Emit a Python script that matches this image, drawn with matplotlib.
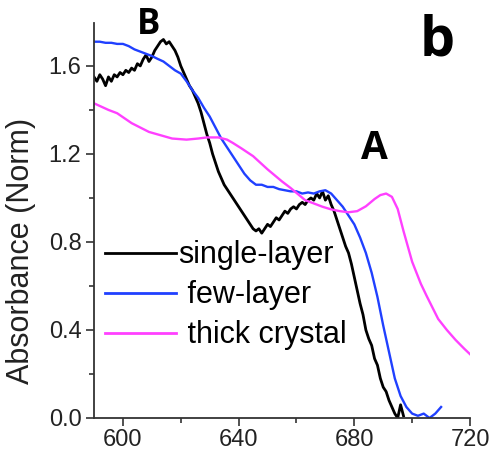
import matplotlib
matplotlib.use("Agg")
import matplotlib.pyplot as plt
from matplotlib.ticker import MultipleLocator

# ---- data ----
single_x = list(range(590, 698))
single_y = [1.55, 1.53, 1.56, 1.54, 1.51, 1.55, 1.53, 1.56, 1.55, 1.57,
            1.56, 1.58, 1.57, 1.59, 1.58, 1.61, 1.60, 1.63, 1.65, 1.62,
            1.64, 1.67, 1.69, 1.71, 1.72, 1.70, 1.71, 1.69, 1.67, 1.64,
            1.60, 1.57, 1.54, 1.51, 1.49, 1.46, 1.43, 1.39, 1.34, 1.29,
            1.25, 1.20, 1.16, 1.12, 1.09, 1.06, 1.04, 1.02, 1.00, 0.98,
            0.96, 0.94, 0.92, 0.90, 0.88, 0.86, 0.85, 0.86, 0.84, 0.86,
            0.88, 0.87, 0.89, 0.91, 0.90, 0.92, 0.94, 0.93, 0.95, 0.96,
            0.95, 0.97, 0.98, 0.97, 0.99, 1.00, 0.99, 1.02, 1.00, 1.03,
            0.99, 1.01, 0.97, 0.94, 0.90, 0.86, 0.82, 0.78, 0.75, 0.70,
            0.64, 0.58, 0.52, 0.47, 0.40, 0.36, 0.33, 0.27, 0.24, 0.18,
            0.14, 0.12, 0.08, 0.05, 0.02, 0.00, 0.06, 0.01]

few_x = list(range(590, 712, 2))
few_y = [1.71, 1.71, 1.705, 1.705, 1.70, 1.70, 1.69, 1.675, 1.665, 1.655,
         1.645, 1.632, 1.62, 1.60, 1.58, 1.565, 1.53, 1.49, 1.455, 1.41,
         1.37, 1.32, 1.27, 1.23, 1.19, 1.15, 1.11, 1.08, 1.06, 1.06,
         1.05, 1.05, 1.04, 1.035, 1.03, 1.03, 1.02, 1.025, 1.02, 1.03,
         1.035, 1.02, 0.99, 0.96, 0.92, 0.88, 0.82, 0.75, 0.66, 0.55,
         0.42, 0.30, 0.18, 0.10, 0.05, 0.02, 0.01, 0.02, 0.00, 0.02,
         0.05]

thick_x = [590, 595, 598, 603, 609, 613, 617, 622, 626, 629, 633, 636,
           638, 641, 645, 650, 655, 658, 663, 669, 672, 675, 678, 681,
           684, 687, 689, 691, 693, 695, 697, 700, 703, 705, 709, 712,
           715, 718, 720]
thick_y = [1.43, 1.40, 1.385, 1.34, 1.30, 1.285, 1.27, 1.265, 1.27, 1.275,
           1.275, 1.265, 1.25, 1.225, 1.19, 1.13, 1.075, 1.045, 0.99, 0.96,
           0.948, 0.94, 0.935, 0.94, 0.962, 0.995, 1.013, 1.02, 1.005, 0.95,
           0.85, 0.71, 0.61, 0.555, 0.45, 0.40, 0.355, 0.315, 0.29]

labels = ["single-layer", " few-layer", " thick crystal"]
colors = ["#000000", "#2040ff", "#ff40ff"]

plt.rcParams['font.family'] = ['Liberation Sans', 'DejaVu Sans']

fig = plt.figure(figsize=(4.91, 4.53), dpi=100)
ax = fig.add_axes([94/491, 35/453, 376/491, 395/453])

ax.plot(single_x, single_y, color=colors[0], lw=2.0, label=labels[0])
ax.plot(few_x, few_y, color=colors[1], lw=1.7, label=labels[1])
ax.plot(thick_x, thick_y, color=colors[2], lw=1.7, label=labels[2])

ax.set_xlim(590, 720)
ax.set_ylim(0, 1.795)
ax.xaxis.set_major_locator(MultipleLocator(40))
ax.xaxis.set_minor_locator(MultipleLocator(20))
ax.yaxis.set_major_locator(MultipleLocator(0.4))
ax.yaxis.set_minor_locator(MultipleLocator(0.2))
ax.yaxis.set_major_formatter(matplotlib.ticker.FormatStrFormatter('%.1f'))

for s in ['top', 'right']:
    ax.spines[s].set_visible(False)
for s in ['left', 'bottom']:
    ax.spines[s].set_color('#333333')
    ax.spines[s].set_linewidth(1.3)

ax.tick_params(which='major', direction='out', length=6, width=1.2,
               colors='#333333', labelsize=17, labelcolor='#222222', pad=3)
ax.tick_params(axis='x', which='major', pad=2)
ax.tick_params(which='minor', direction='out', length=3.5, width=1.2,
               colors='#333333')

ax.set_ylabel("Absorbance (Norm)", fontsize=22, color='#222222')
ax.yaxis.set_label_coords(-0.155, 0.423)

leg = ax.legend(loc='upper left', bbox_to_anchor=(0.03, 0.45), frameon=False,
                fontsize=22, handlelength=2.3, handletextpad=0.1,
                labelspacing=0.33, borderpad=0, borderaxespad=0)
for line in leg.get_lines():
    line.set_linewidth(2.0)

ax.text(609, 1.786, "B", fontsize=25, fontweight='bold', family='Open Sans',
        ha='center', va='center', clip_on=False)
ax.text(687, 1.223, "A", fontsize=28, fontweight='bold', family='Open Sans',
        ha='center', va='center')
ax.text(708.6, 1.714, "b", fontsize=40, fontweight='bold', family='Open Sans',
        ha='center', va='center')

fig.savefig("out.png", dpi=100)
